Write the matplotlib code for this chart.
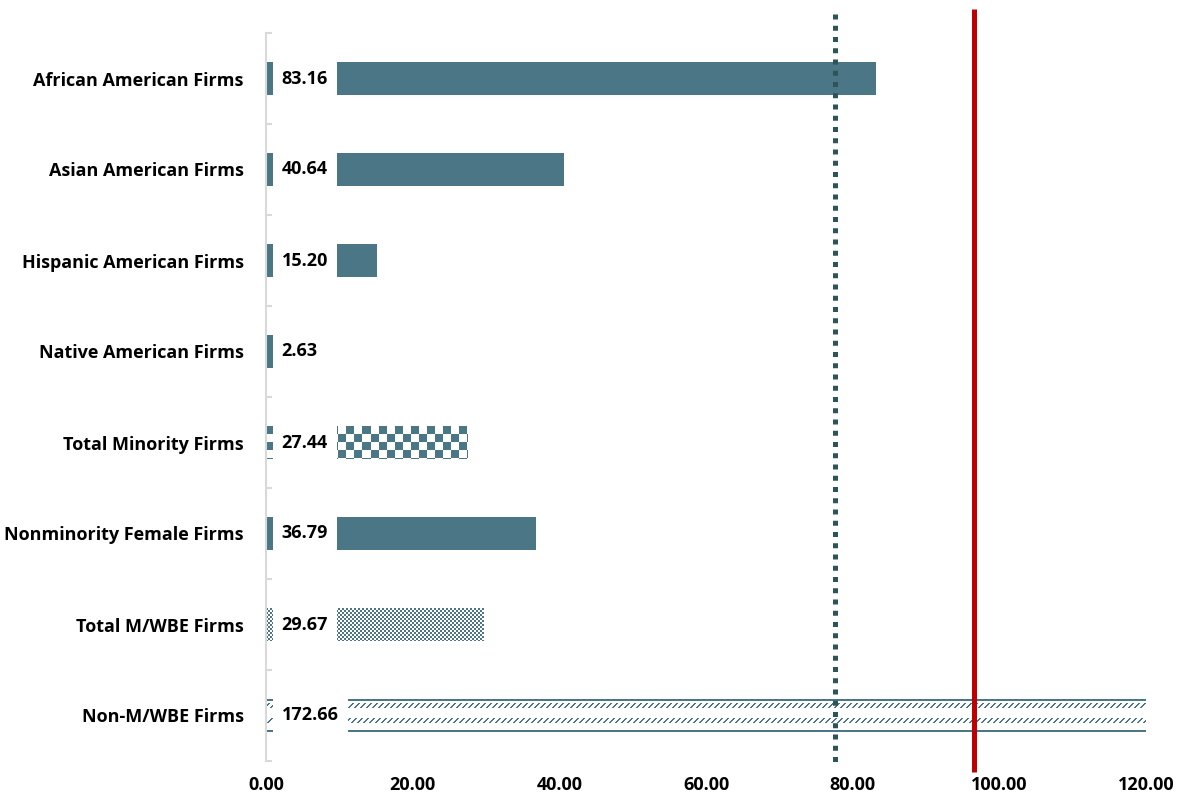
import numpy as np
import matplotlib
matplotlib.use("Agg")
import matplotlib.pyplot as plt

# data
categories = ['African American Firms', 'Asian American Firms', 'Hispanic American Firms',
              'Native American Firms', 'Total Minority Firms', 'Nonminority Female Firms',
              'Total M/WBE Firms', 'Non-M/WBE Firms']
values = [83.16, 40.64, 15.20, 2.63, 27.44, 36.79, 29.67, 172.66]
fills = ['solid', 'solid', 'solid', 'solid', 'checker_big', 'solid', 'checker_small', 'dashes']
dotted_line_x = 77.6
red_line_x = 96.55
x_ticks = [0, 20, 40, 60, 80, 100, 120]

plt.rcParams['font.family'] = ['Open Sans', 'DejaVu Sans']
teal = '#4a7685'

fig = plt.figure(figsize=(11.8, 8), dpi=100)
ax = fig.add_axes([266 / 1180, 39 / 800, 880 / 1180, 728 / 800])

bar_h = 0.36
ypos = np.arange(len(categories))


def pattern(kind, nx, ny):
    # pixel fill patterns for the patterned bars
    yy, xx = np.mgrid[0:ny, 0:nx]
    if kind == 'checker_big':
        mask = (xx // 8 + yy // 8) % 2 == 0
    elif kind == 'checker_small':
        mask = (xx // 2 + yy // 2) % 2 == 0
    else:
        mask = (yy < 2) | (yy >= ny - 2)
        for r in (6, 21):
            mask |= (np.abs(yy - r) <= 2) & ((xx + yy) % 6 < 2)
    rgba = np.zeros((ny, nx, 4))
    rgba[mask, :3] = matplotlib.colors.to_rgb(teal)
    rgba[mask, 3] = 1.0
    return rgba


for i, (v, f) in enumerate(zip(values, fills)):
    if f == 'solid':
        ax.barh(i, v, height=bar_h, color=teal, zorder=2)
    else:
        ax.barh(i, v, height=bar_h, color='none', zorder=2)
        nx = int(round(v * 880 / 120))
        img = pattern(f, nx, 33)
        ax.imshow(img, extent=(0, v, i + bar_h / 2, i - bar_h / 2), origin='upper',
                  aspect='auto', interpolation='nearest', zorder=2)
    # value label on a white box over the start of the bar
    ax.text(2.15, i, f'{v:.2f}', ha='left', va='center', fontsize=13, fontweight='bold',
            zorder=5, bbox=dict(boxstyle='square,pad=0.5', fc='white', ec='none'))

ax.set_xlim(0, 120)
ax.set_ylim(len(categories) - 0.5, -0.5)

ax.vlines(dotted_line_x, -0.71, 7.545, colors='#2d5559', linewidth=3.6,
          linestyles=(0, (1, 1.25)), clip_on=False, zorder=4)
ax.vlines(red_line_x, -0.765, 7.62, colors='#c00000', linewidth=3.6,
          clip_on=False, zorder=4)

ax.set_yticks(ypos)
ax.set_yticklabels(categories, fontsize=13, fontweight='bold')
ax.set_yticks(np.arange(-0.5, len(categories)), minor=True)
ax.tick_params(axis='y', which='major', length=0, pad=16)
ax.tick_params(axis='y', which='minor', length=4.5, width=1.5, color='#d9d9d9', direction='in')

ax.set_xticks(x_ticks)
ax.set_xticklabels([f'{t:.2f}' for t in x_ticks], fontsize=13, fontweight='bold')
ax.tick_params(axis='x', length=0, pad=11)

for s in ['top', 'right', 'bottom']:
    ax.spines[s].set_visible(False)
ax.spines['left'].set_color('#d9d9d9')
ax.spines['left'].set_linewidth(1.5)

fig.savefig('out.png', dpi=100)
